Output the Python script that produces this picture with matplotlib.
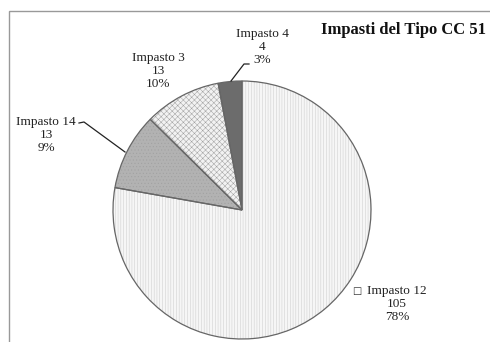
import matplotlib
matplotlib.use("Agg")
import matplotlib.pyplot as plt
from matplotlib.patches import Rectangle

# dati: impasti del tipo CC 51
etichette = ['Impasto 12', 'Impasto 14', 'Impasto 3', 'Impasto 4']
valori = [105, 13, 13, 4]
percentuali = ['78%', '9%', '10%', '3%']

colori = ['#f6f6f6', '#b2b2b2', '#f2f2f2', '#6c6c6c']
tratteggi = ['||||||', '.....', 'xxxxxx', '']
col_tratteggio = ['#cccccc', '#a0a0a0', '#a0a0a0', '#6c6c6c']

plt.rcParams['font.family'] = ['Liberation Serif', 'DejaVu Serif']
plt.rcParams['hatch.linewidth'] = 0.35

fig = plt.figure(figsize=(4.9, 3.42), dpi=100)
fig.patch.set_facecolor('white')

# cornice grigia (solo lati alto e sinistro visibili)
fig.add_artist(Rectangle((9 / 490, -0.05), 1.1, 1 - 11 / 342 + 0.05,
                         transform=fig.transFigure, fill=False,
                         edgecolor='#999999', linewidth=1.0))

ax = fig.add_axes([(242 - 129) / 490, (342 - 210 - 129) / 342,
                   258 / 490, 258 / 342])
# riempimento e tratteggio
spicchi, _ = ax.pie(valori, startangle=90, counterclock=False,
                    colors=colori, frame=False)
for s, h, c in zip(spicchi, tratteggi, col_tratteggio):
    s.set_hatch(h)
    s.set_edgecolor(c)
    s.set_linewidth(0)
# contorni
contorni, _ = ax.pie(valori, startangle=90, counterclock=False,
                     wedgeprops=dict(fill=False, edgecolor='#666666',
                                     linewidth=0.9))
ax.set_xlim(-1, 1)
ax.set_ylim(-1, 1)
ax.set_aspect('equal')
ax.axis('off')

def px(x, y):
    return x / 490, 1 - y / 342

testo = dict(ha='center', va='center', fontsize=9.5, color='#222222',
             linespacing=1.15)

# etichette delle fette
pos = {'Impasto 12': (397, 304), 'Impasto 14': (46, 135),
       'Impasto 3': (158, 71), 'Impasto 4': (262, 47)}
for nome, v, p in zip(etichette, valori, percentuali):
    x, y = px(*pos[nome])
    fig.text(x, y, f'{nome}\n{v}\n{p}', **testo)

# linee di richiamo
lx, ly = zip(px(79, 123), px(84, 122), px(125, 152))
fig.add_artist(plt.Line2D(lx, ly, color='#222222', linewidth=0.9,
                          transform=fig.transFigure))
lx, ly = zip(px(249, 64), px(244, 64), px(231, 81))
fig.add_artist(plt.Line2D(lx, ly, color='#222222', linewidth=0.9,
                          transform=fig.transFigure))

# quadratino accanto a Impasto 12
x, y = px(357, 291)
fig.text(x, y, '\u25a1', ha='center', va='center', fontsize=7,
         family=['DejaVu Sans'], color='#333333')

x, y = px(486, 30)
fig.text(x, y, 'Impasti del Tipo CC 51', ha='right', va='center',
         fontsize=12, fontweight='bold', color='#111111')

fig.savefig('out.png', dpi=100, facecolor='white')
